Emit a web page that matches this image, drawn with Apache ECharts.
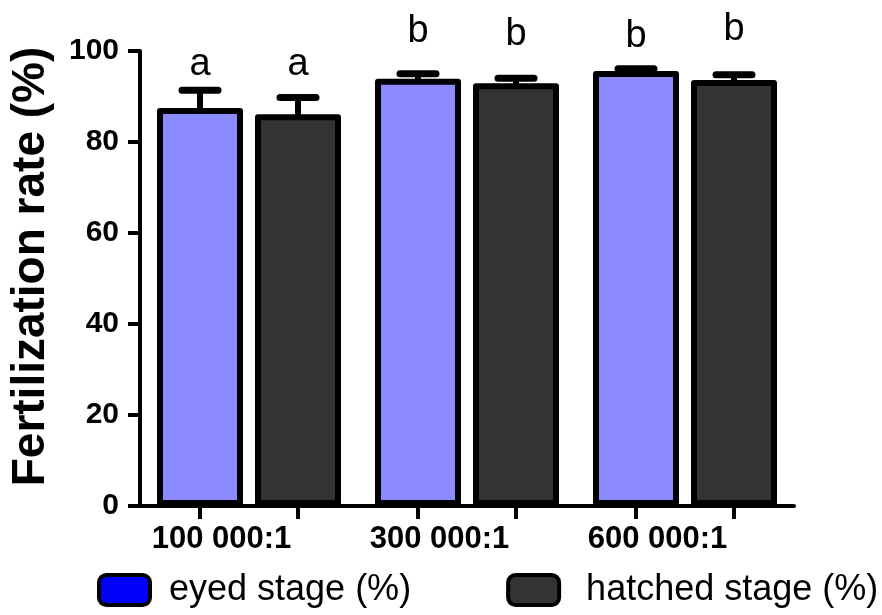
<!DOCTYPE html>
<html>
<head>
<meta charset="utf-8">
<script src="https://cdn.jsdelivr.net/npm/echarts@6/dist/echarts.min.js"></script>
<style>
html,body{margin:0;padding:0;background:#fff;}
#chart{width:882px;height:615px;}
</style>
</head>
<body>
<div id="chart"></div>
<script>
const categories = ['100 000:1', '300 000:1', '600 000:1'];
const seriesNames = ['eyed stage (%)', 'hatched stage (%)'];
const eyedMean = [87.5, 93.9, 95.6];
const eyedErr = [3.9, 1.1, 0.5];
const hatchedMean = [86.1, 92.9, 93.6];
const hatchedErr = [3.7, 1.1, 1.2];
const eyedLetters = ['a', 'b', 'b'];
const hatchedLetters = ['a', 'b', 'b'];
const eyedLetterPos = [94.7, 101.8, 100.7];
const hatchedLetterPos = [94.7, 101.3, 102.4];
const yMin = 0, yMax = 100, yStep = 20;

const FONT = 'Liberation Sans, Arial, sans-serif';
const BAR_W = 86, BAR_GAP_PX = 12;
const HALF_OFF = (BAR_W + BAR_GAP_PX) / 2;
const BORDER = 6;

function errSeries(name, means, errs, letters, letterPos, sign) {
  const data = means.map((m, i) => [i, m, errs[i], letterPos[i]]);
  return {
    type: 'custom',
    name: name + ' err',
    clip: false,
    z: 5,
    silent: true,
    data: data,
    encode: { x: 0, y: 1 },
    renderItem: function (params, api) {
      const idx = api.value(0);
      const mean = api.value(1);
      const err = api.value(2);
      const lp = api.value(3);
      const letter = letters[params.dataIndex];
      const base = api.coord([idx, mean]);
      const cx = base[0] + sign * HALF_OFF;
      const yTop = api.coord([idx, mean + err])[1];
      const y0 = api.coord([idx, 0])[1];
      const yL = api.coord([idx, lp])[1];
      const capHalf = 18;
      return {
        type: 'group',
        children: [
          { type: 'line', shape: { x1: cx, y1: base[1] + 2, x2: cx, y2: yTop }, style: { stroke: '#000', lineWidth: 6 } },
          { type: 'line', shape: { x1: cx - capHalf, y1: yTop, x2: cx + capHalf, y2: yTop }, style: { stroke: '#000', lineWidth: 7, lineCap: 'round' } },
          { type: 'line', shape: { x1: cx, y1: y0, x2: cx, y2: y0 + 13 }, style: { stroke: '#000', lineWidth: 4 } },
          { type: 'text', x: cx, y: yL - 11, style: { text: letter, fill: '#000', font: '38px ' + FONT, align: 'center', verticalAlign: 'middle' } }
        ]
      };
    }
  };
}

const chart = echarts.init(document.getElementById('chart'), null, { renderer: 'canvas' });
const option = {
  backgroundColor: '#fff',
  animation: false,
  grid: { left: 140, right: 88, top: 51, bottom: 109 },
  legend: {
    left: 97,
    top: 572,
    padding: 0,
    icon: 'roundRect',
    itemWidth: 51,
    itemHeight: 30,
    itemGap: 95,
    itemStyle: { borderColor: '#000', borderWidth: 4 },
    textStyle: { fontFamily: FONT, fontSize: 36, color: '#000', padding: [0, 0, 0, 14] },
    data: [
      { name: seriesNames[0], itemStyle: { color: '#0000ff', borderColor: '#000', borderWidth: 4 } },
      { name: seriesNames[1], itemStyle: { color: '#333333', borderColor: '#000', borderWidth: 4 },
        textStyle: { fontFamily: FONT, fontSize: 36, color: '#000', padding: [0, 0, 0, 22] } }
    ]
  },
  xAxis: {
    type: 'category',
    data: categories,
    axisLine: { lineStyle: { color: '#000', width: 4 } },
    axisTick: { show: false },
    axisLabel: { fontFamily: FONT, fontSize: 31, fontWeight: 'bold', color: '#000', margin: 18, padding: [0, 55, 0, 0] }
  },
  yAxis: {
    type: 'value',
    min: yMin, max: yMax, interval: yStep,
    name: 'Fertilization rate (%)',
    nameLocation: 'middle',
    nameGap: 86,
    nameTextStyle: { fontFamily: FONT, fontSize: 46, fontWeight: 'bold', color: '#000', padding: [0, 0, 0, 24] },
    axisLine: { show: true, lineStyle: { color: '#000', width: 4 } },
    axisTick: { show: true, length: 12, lineStyle: { color: '#000', width: 4 } },
    splitLine: { show: false },
    axisLabel: { fontFamily: FONT, fontSize: 30, fontWeight: 'bold', color: '#000', margin: 21 }
  },
  series: [
    {
      type: 'bar', name: seriesNames[0], data: eyedMean,
      barWidth: BAR_W, barGap: (BAR_GAP_PX / BAR_W * 100) + '%',
      itemStyle: { color: '#8b8bff', borderColor: '#000', borderWidth: BORDER, borderJoin: 'round' },
      z: 3
    },
    {
      type: 'bar', name: seriesNames[1], data: hatchedMean,
      barWidth: BAR_W,
      itemStyle: { color: '#333333', borderColor: '#000', borderWidth: BORDER, borderJoin: 'round' },
      z: 3
    },
    errSeries(seriesNames[0], eyedMean, eyedErr, eyedLetters, eyedLetterPos, -1),
    errSeries(seriesNames[1], hatchedMean, hatchedErr, hatchedLetters, hatchedLetterPos, 1)
  ]
};
chart.setOption(option);
</script>
</body>
</html>
